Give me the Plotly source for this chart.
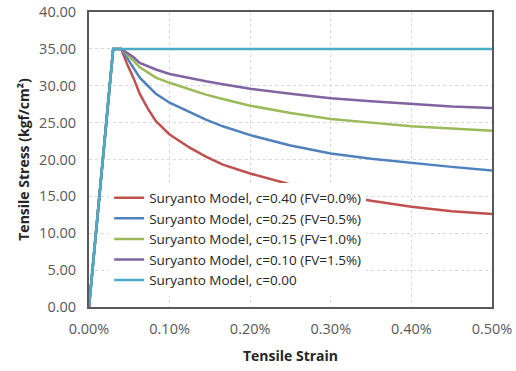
import plotly.graph_objects as go

strain = [0, 0.0003, 0.0004, 0.00047, 0.00055, 0.00063, 0.00073, 0.00083, 0.0010, 0.00125,
          0.00145, 0.00166, 0.0020, 0.0025, 0.0030, 0.0035, 0.0040, 0.0045, 0.0050]
stress_c040 = [0, 35, 35, 33.0, 31.1, 28.9, 26.9, 25.2, 23.4, 21.6, 20.4, 19.3, 18.1, 16.6, 15.4, 14.4, 13.6, 13.0, 12.6]
stress_c025 = [0, 35, 35, 33.8, 32.5, 31.1, 30.0, 28.9, 27.7, 26.4, 25.4, 24.5, 23.3, 21.9, 20.8, 20.1, 19.5, 19.0, 18.5]
stress_c015 = [0, 35, 35, 34.3, 33.4, 32.5, 31.8, 31.1, 30.4, 29.5, 28.8, 28.2, 27.3, 26.3, 25.5, 25.0, 24.5, 24.2, 23.9]
stress_c010 = [0, 35, 35, 34.5, 33.9, 33.1, 32.6, 32.2, 31.6, 31.0, 30.6, 30.2, 29.6, 28.9, 28.3, 27.9, 27.5, 27.2, 27.0]
strain_c000 = [0, 0.0003, 0.0050]
stress_c000 = [0, 35, 35]

names = ["Suryanto Model, c=0.40 (FV=0.0%)",
         "Suryanto Model, c=0.25 (FV=0.5%)",
         "Suryanto Model, c=0.15 (FV=1.0%)",
         "Suryanto Model, c=0.10 (FV=1.5%)",
         "Suryanto Model, c=0.00"]
colors = ["#C0504D", "#4F81BD", "#9BBB59", "#8064A2", "#4BACC6"]

fig = go.Figure()
series = [(strain, stress_c040), (strain, stress_c025), (strain, stress_c015),
          (strain, stress_c010), (strain_c000, stress_c000)]
for (xs, ys), n, c in zip(series, names, colors):
    fig.add_trace(go.Scatter(x=xs, y=ys, name=n, mode="lines",
                             line=dict(color=c, width=2.5, shape="linear")))

font_family = "Open Sans"
fig.update_layout(
    width=516, height=371,
    margin=dict(l=89, r=24, t=12, b=64),
    paper_bgcolor="white", plot_bgcolor="white",
    font=dict(family=font_family, size=14.5, color="#595959"),
    showlegend=True,
    legend=dict(x=0.05, y=0.422, xanchor="left", yanchor="top",
                bgcolor="white", borderwidth=0,
                font=dict(family=font_family, size=13.5, color="#262626"),
                tracegroupgap=0, itemwidth=30),
    xaxis=dict(range=[0, 0.005], tickvals=[0, 0.001, 0.002, 0.003, 0.004, 0.005],
               tickformat=".2%", showgrid=True, gridcolor="#D9D9D9", griddash="dot",
               showline=True, linecolor="#595959", linewidth=2, mirror=True,
               zeroline=False, ticks="", ticklabelstandoff=8, automargin=False,
               title=dict(text="<b>Tensile Strain</b>", standoff=14,
                          font=dict(family=font_family, size=14, color="#262626"))),
    yaxis=dict(range=[0, 40], tickvals=[0, 5, 10, 15, 20, 25, 30, 35, 40],
               tickformat=".2f", showgrid=True, gridcolor="#D9D9D9", griddash="dot",
               showline=True, linecolor="#595959", linewidth=2, mirror=True,
               zeroline=False, ticks="", ticklabelstandoff=8, automargin=False,
               title=dict(text="<b>Tensile Stress (kgf/cm²)</b>", standoff=6,
                          font=dict(family=font_family, size=14, color="#262626"))),
)

fig.write_html("out.html", config={"displayModeBar": False},
               post_script="document.body.style.margin='0px';")
